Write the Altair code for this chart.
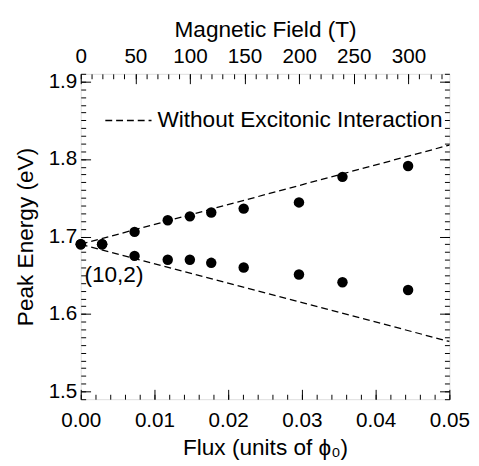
import altair as alt
import pandas as pd

# ---- data ----
field_T = [0, 20, 50, 80, 100, 120, 150, 200, 240, 300]
flux = [0.0, 0.0029, 0.0073, 0.0118, 0.0148, 0.0177, 0.0221, 0.0296, 0.0355, 0.0444]
upper_E = [1.690, 1.690, 1.706, 1.721, 1.726, 1.731, 1.736, 1.744, 1.777, 1.791]
lower_E = [1.690, 1.690, 1.675, 1.670, 1.670, 1.666, 1.660, 1.651, 1.641, 1.631]

line_flux = [0.0, 0.05]
line_upper = [1.690, 1.818]
line_lower = [1.690, 1.5645]
legend_label = "Without Excitonic Interaction"

annot_text = ["(10,2)"]
annot_flux = [0.0005]
annot_E = [1.650]

flux_major = [0.0, 0.01, 0.02, 0.03, 0.04, 0.05]
flux_minor = [round(0.002 * i, 3) for i in range(26)]
E_major = [1.5, 1.6, 1.7, 1.8, 1.9]
E_minor = [round(1.49 + 0.01 * i, 2) for i in range(43)]
T_major = [0, 50, 100, 150, 200, 250, 300]
T_minor = [10 * i for i in range(34)]

W, H = 375, 331
FONT = "Liberation Sans"

pts = pd.DataFrame({"flux": flux + flux, "E": upper_E + lower_E, "T": field_T + field_T})
lines = pd.DataFrame({
    "flux": line_flux + line_flux,
    "E": line_upper + line_lower,
    "branch": ["up", "up", "down", "down"],
    "series": [legend_label] * 4,
})
annot = pd.DataFrame({"flux": annot_flux, "E": annot_E, "label": annot_text})

xs = alt.Scale(domain=[0, 0.05], nice=False, zero=False)
ys = alt.Scale(domain=[1.49, 1.91], nice=False, zero=False)
ts = alt.Scale(domain=[0, 337.5], nice=False, zero=False)


def tick_axis(orient, offset, values, size):
    return alt.Axis(orient=orient, offset=offset, values=values, labels=False,
                    ticks=True, tickSize=size, tickWidth=1, tickColor="black",
                    domain=False, grid=False, title=None)


label_style = dict(labelFont=FONT, labelFontSize=21, labelColor="black",
                   labelFlush=False, labelOverlap=False,
                   titleFont=FONT, titleFontSize=23, titleFontWeight="normal",
                   titleColor="black", ticks=False, tickSize=0, domain=False, grid=False)

lines_layer = alt.Chart(lines).mark_line(color="black", strokeWidth=1.3).encode(
    x=alt.X("flux:Q", scale=xs, axis=tick_axis("top", -H, flux_major, 10)),
    y=alt.Y("E:Q", scale=ys, axis=tick_axis("right", -W, E_major, 10)),
    detail="branch:N",
    strokeDash=alt.StrokeDash(
        "series:N", scale=alt.Scale(range=[[7, 4]]),
        legend=alt.Legend(orient="none", legendX=24, legendY=23, title=None,
                          symbolType="stroke", symbolSize=2209, symbolStrokeWidth=1.3,
                          symbolStrokeColor="black", labelFont=FONT, labelFontSize=23,
                          labelColor="black", labelLimit=500, labelOffset=5, padding=0)),
)

points_layer = alt.Chart(pts).mark_circle(size=113, color="black", opacity=1).encode(
    x=alt.X("flux:Q", scale=xs,
            axis=alt.Axis(orient="bottom", values=flux_major, format=".2f",
                          labelPadding=11, title="Flux (units of ϕ₀)", titlePadding=6,
                          **label_style)),
    y=alt.Y("E:Q", scale=ys,
            axis=alt.Axis(orient="left", values=E_major, format=".1f",
                          labelPadding=4, title="Peak Energy (eV)", titlePadding=11,
                          **label_style)),
)

minor_a = alt.Chart(pts).mark_point(opacity=0).encode(
    x=alt.X("flux:Q", scale=xs, axis=tick_axis("top", -H, flux_minor, 5)),
    y=alt.Y("E:Q", scale=ys, axis=tick_axis("right", -W, E_minor, 5)),
)
right_major = alt.Chart(pts).mark_point(opacity=0).encode(
    x=alt.X("flux:Q", scale=xs, axis=None),
    y=alt.Y("E:Q", scale=ys, axis=tick_axis("left", -W, E_major, 10)),
)
right_minor = alt.Chart(pts).mark_point(opacity=0).encode(
    x=alt.X("flux:Q", scale=xs, axis=None),
    y=alt.Y("E:Q", scale=ys, axis=tick_axis("left", -W, E_minor, 5)),
)
top_labels = alt.Chart(pts).mark_point(opacity=0).encode(
    x=alt.X("T:Q", scale=ts,
            axis=alt.Axis(orient="top", values=T_major, format="d", labelPadding=7,
                          title="Magnetic Field (T)", titlePadding=5, **label_style)),
    y=alt.Y("E:Q", scale=ys, axis=None),
)
top_major = alt.Chart(pts).mark_point(opacity=0).encode(
    x=alt.X("T:Q", scale=ts, axis=tick_axis("bottom", -H, T_major, 10)),
    y=alt.Y("E:Q", scale=ys, axis=None),
)
top_minor = alt.Chart(pts).mark_point(opacity=0).encode(
    x=alt.X("T:Q", scale=ts, axis=tick_axis("bottom", -H, T_minor, 5)),
    y=alt.Y("E:Q", scale=ys, axis=None),
)
annot_layer = alt.Chart(annot).mark_text(align="left", baseline="middle", font=FONT,
                                         fontSize=23, color="black").encode(
    x=alt.X("flux:Q", scale=xs, axis=None),
    y=alt.Y("E:Q", scale=ys, axis=None),
    text="label:N",
)

chart = alt.layer(
    lines_layer, points_layer, minor_a, right_major, right_minor,
    top_labels, top_major, top_minor, annot_layer,
).resolve_scale(x="independent").resolve_axis(x="independent", y="independent").properties(
    width=W, height=H,
    autosize=alt.AutoSizeParams(type="none"),
    padding={"left": 74, "top": 63, "right": 22, "bottom": 64},
).configure_view(stroke="black", strokeWidth=1.5).configure(background="white")

chart.save("out.html", embed_options={"renderer": "svg", "actions": False})
